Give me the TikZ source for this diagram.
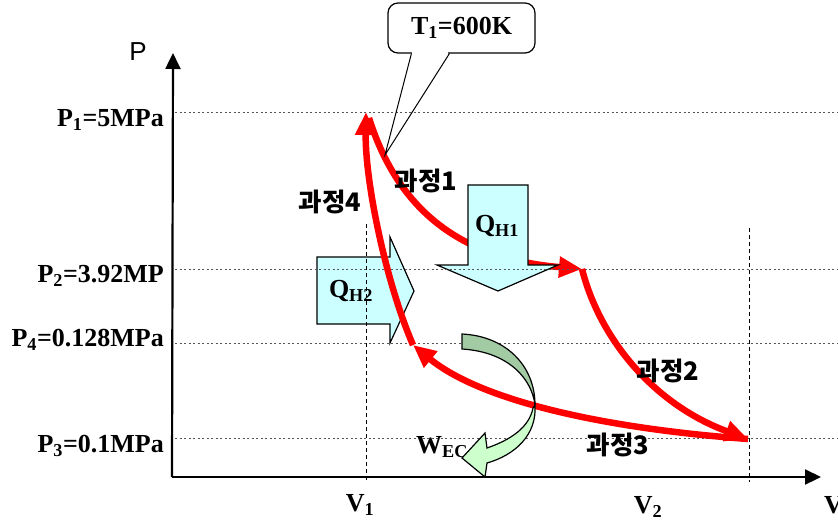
\documentclass[tikz,border=0pt]{standalone}
\usepackage{fontspec}
\setmainfont{Liberation Serif}
\setsansfont{Liberation Sans}
\newfontfamily\kofont{Noto Sans CJK KR}
\usetikzlibrary{arrows.meta}
\definecolor{qcyan}{HTML}{CCFFFF}
\definecolor{wdark}{HTML}{A3CBA3}
\definecolor{wlight}{HTML}{CCFFCC}
\definecolor{gridgray}{HTML}{555555}

\begin{document}
\begin{tikzpicture}[
  x=1pt, y=-1pt,
  axis/.style={line width=2.2pt, -{Triangle[length=16pt,width=15pt]}},
  level/.style={gridgray, line width=0.9pt, dash pattern=on 2pt off 2.5pt},
  vmark/.style={black, line width=0.8pt, dash pattern=on 4pt off 3pt},
  lab/.style={inner sep=0pt, font=\fontsize{26}{29}\selectfont\bfseries},
  kor/.style={inner sep=0pt, font=\kofont\fontsize{25.5}{29}\selectfont\bfseries},
  proc/.style={red, line width=6.5pt, -{Triangle[length=23pt,width=20pt]}},
  heat/.style={draw=black, line width=1.2pt, fill=qcyan, line join=miter},
  work/.style={draw=black, line width=1.2pt, line join=miter},
]
\useasboundingbox (0,0) rectangle (838,520);

% state points
\coordinate (s1) at (366,112);
\coordinate (s2) at (582,269);
\coordinate (s3) at (748,439);
\coordinate (s4) at (413,345);
\coordinate (o) at (172,477);
\coordinate (ptop) at (173,53);
\coordinate (vend) at (821,477);

% process 1 runs under Q_H1
\draw[proc] ([shift={(3,6)}]s1) .. controls (395,200) and (450,258) .. (s2);

% heat in
\draw[heat] (468,185) -- (528,185) -- (528,265) -- (558,265) -- (498,291)
  -- (437,265) -- (468,265) -- cycle;
\node[lab] (qh1) at (497,226) {Q\textsubscript{H1}};
\draw[heat] (317,257) -- (390,257) -- (390,237) -- (414,291) -- (390,343)
  -- (390,324) -- (317,324) -- cycle;
\node[lab] (qh2) at (351,291) {Q\textsubscript{H2}};

% pressure levels and volumes
\foreach \y in {112,269,343,438}
  \draw[level] (175,\y) -- (838,\y);
\draw[vmark] (366,224) -- (366,480);
\draw[vmark] (749,228) -- (749,482);

% axes
\draw[axis] (o) -- (ptop);
\draw[axis] (o) -- (vend);
\node[inner sep=0pt, font=\sffamily\fontsize{26}{29}\selectfont] (plab) at (138,52) {P};
\node[lab, anchor=west] (vlab) at (824,505) {V};

\node[lab, anchor=east] (p1) at (164,120) {P\textsubscript{1}=5MPa};
\node[lab, anchor=east] (p2) at (164,276) {P\textsubscript{2}=3.92MP};
\node[lab, anchor=east] (p4) at (164,340) {P\textsubscript{4}=0.128MPa};
\node[lab, anchor=east] (p3) at (164,446) {P\textsubscript{3}=0.1MPa};
\node[lab] (v1) at (360,505) {V\textsubscript{1}};
\node[lab] (v2) at (648,507) {V\textsubscript{2}};

% processes 2-4
\draw[proc] (s2) .. controls (600,340) and (655,405) .. (s3);
\draw[proc] (s3) .. controls (600,428) and (480,400) .. (s4);
\draw[proc] (s4) .. controls (385,280) and (365,180) .. (s1);

\node[kor] (k1) at (426,181) {과정1};
\node[kor] (k2) at (668,371) {과정2};
\node[kor] (k3) at (618,445) {과정3};
\node[kor] (k4) at (330,202) {과정4};

% work out
\node[lab, anchor=west] (wec) at (416,447) {W\textsubscript{EC}};
\draw[work, fill=wdark] (462,334) .. controls (505,336) and (535,365) .. (535,405)
  .. controls (532,380) and (510,352) .. (462,349) -- cycle;
\draw[work, fill=wlight] (535,405) .. controls (537,435) and (515,455) .. (487,463)
  -- (485,477) -- (462,458) -- (485,433) -- (487,448)
  .. controls (510,440) and (529,428) .. (533,408) -- cycle;

% T1 callout
\node[lab, draw, fill=white, line width=1.2pt, rounded corners=10pt,
  minimum width=147pt, minimum height=50pt] (t1) at (461.5,28) {T\textsubscript{1}=600K};
\coordinate (t1tip) at (385,155);
\draw[white, line width=2.5pt] ([xshift=25pt]t1.south west) -- ([xshift=61pt]t1.south west);
\draw[line width=1pt] ([xshift=24pt]t1.south west) -- (t1tip) -- ([xshift=62pt]t1.south west);
\end{tikzpicture}
\end{document}
